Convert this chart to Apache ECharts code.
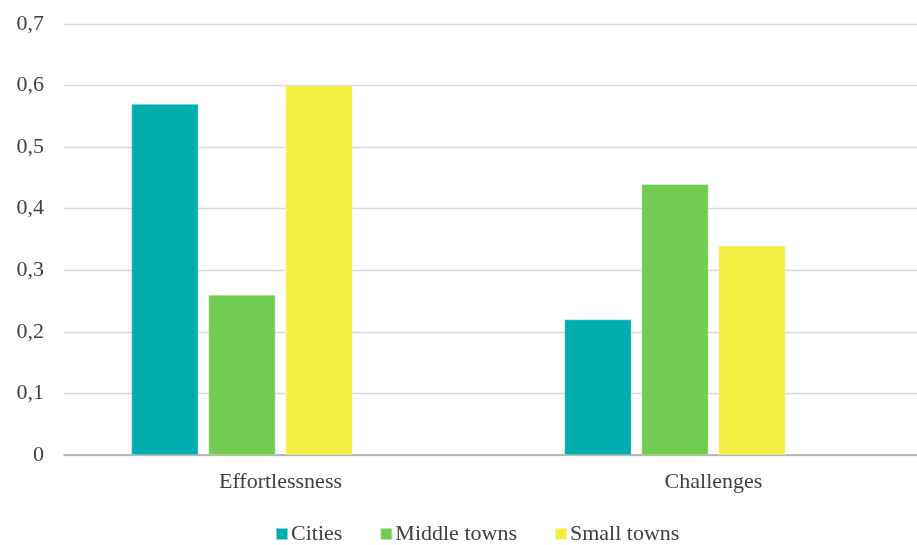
<!DOCTYPE html>
<html>
<head>
<meta charset="utf-8">
<script src="https://cdn.jsdelivr.net/npm/echarts@6/dist/echarts.min.js"></script>
<style>
  html, body { margin: 0; padding: 0; background: #fff; }
  #chart { width: 917px; height: 545px; }
</style>
</head>
<body>
<div id="chart"></div>
<script>
const categories = ['Effortlessness', 'Challenges'];
const seriesNames = ['Cities', 'Middle towns', 'Small towns'];
const cities = [0.57, 0.22];
const middleTowns = [0.26, 0.44];
const smallTowns = [0.60, 0.34];
// empty fourth slot keeps the three bars offset within each category
const reserved = [null, null];
const colors = ['#00AEAD', '#72CC52', '#F2EF42'];

const font = '"Liberation Serif", "Times New Roman", serif';
const textColor = '#404040';

const chart = echarts.init(document.getElementById('chart'));

function bar(name, data, color) {
  return {
    name: name,
    type: 'bar',
    data: data,
    barWidth: 67,
    barGap: '15%',
    itemStyle: { color: color, borderColor: 'rgba(255,255,255,0.5)', borderWidth: 0.6 },
    emphasis: { disabled: true }
  };
}

chart.setOption({
  animation: false,
  // plot area runs past the right edge of the canvas
  grid: { left: 64, top: 24, width: 866, height: 431, containLabel: false, outerBoundsMode: 'none' },
  legend: {
    data: seriesNames,
    top: 518,
    left: 270,
    itemWidth: 12,
    itemHeight: 12,
    itemGap: 37,
    icon: 'rect',
    textStyle: { fontFamily: font, fontSize: 22, color: textColor, padding: [0, 0, 0, -2] }
  },
  xAxis: {
    type: 'category',
    data: categories,
    axisLine: { lineStyle: { color: '#a6a6a6', width: 1.5 } },
    axisTick: { show: false },
    axisLabel: { fontFamily: font, fontSize: 22, color: textColor, margin: 16 }
  },
  yAxis: {
    type: 'value',
    min: 0,
    max: 0.7,
    interval: 0.1,
    axisLine: { show: false },
    axisTick: { show: false },
    splitLine: { lineStyle: { color: '#d9d9d9', width: 1.3 } },
    axisLabel: {
      fontFamily: font,
      fontSize: 22,
      color: textColor,
      margin: 20,
      formatter: v => v === 0 ? '0' : v.toFixed(1).replace('.', ',')
    }
  },
  series: [
    bar('Cities', cities, colors[0]),
    bar('Middle towns', middleTowns, colors[1]),
    bar('Small towns', smallTowns, colors[2]),
    bar('', reserved, 'transparent')
  ]
});
</script>
</body>
</html>
